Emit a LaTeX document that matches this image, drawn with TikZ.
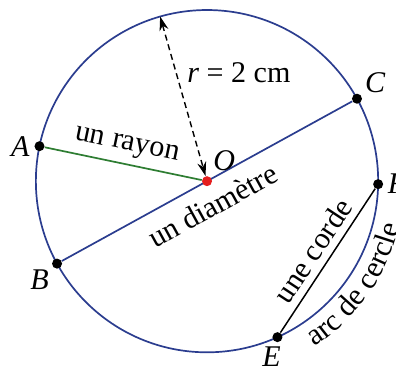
\documentclass[tikz,border=0pt]{standalone}
\usepackage{fontspec}
\setmainfont{Liberation Serif}
\usepackage{tikz}
\usepackage{xcolor}
\definecolor{CircleBlue}{HTML}{2B3D8F}
\definecolor{RayGreen}{HTML}{2E7D32}
\definecolor{CentreRed}{HTML}{E41E1E}
\usetikzlibrary{arrows.meta, positioning, decorations.text, backgrounds}

\begin{document}
\begin{tikzpicture}[font=\fontsize{15}{18}\selectfont,
        pnt/.style={circle, fill=black, inner sep=0pt, minimum size=5pt},
        lbl/.style={inner sep=1pt}]
        \useasboundingbox (-103.3pt,-97.3pt) rectangle (94.3pt,90.4pt);
        \def\R{85.4pt}

        % points on the circle
        \node[pnt, fill=CentreRed] (O) at (0,0) {};
        \node[pnt] (A) at (168.2:\R) {};
        \node[pnt] (B) at (208.8:\R) {};
        \node[pnt] (C) at (28.8:\R) {};
        \node[pnt] (F) at (-1:\R) {};
        \node[pnt] (E) at (-65.7:\R) {};
        \coordinate (T) at (105.9:\R);

        \node[lbl, left=1pt of A] (labA) {\textit{A}};
        \node[lbl, below left=0pt and 1pt of B] (labB) {\textit{B}};
        \node[lbl, above right=0pt and 1pt of C] (labC) {\textit{C}};
        \node[lbl, above right=2pt and 0pt of O] (labO) {\textit{O}};
        \node[lbl, right=1pt of F] (labF) {\textit{F}};
        \node[lbl, below=1pt of E, xshift=-3pt] (labE) {\textit{E}};

        \begin{scope}[on background layer]
            \draw[CircleBlue, line width=0.85pt] (O.center) circle (\R);
            \draw[CircleBlue, line width=0.85pt] (B) -- (C) node[pos=0.48, below=3pt, sloped, black] {un diamètre};
            \draw[RayGreen, line width=0.85pt] (A) -- (O) node[midway, above, sloped, black] {un rayon};
            \draw[line width=0.75pt] (E) -- (F) node[midway, above, sloped] {une corde};
            \draw[dash pattern=on 3pt off 2pt, line width=0.7pt, {Stealth[length=7pt, width=4.5pt]}-{Stealth[length=7pt, width=4.5pt]}] (T) -- (O) node[pos=0.35, right=2pt] {\textit{r} = 2 cm};
        \end{scope}

        \path[decorate, decoration={text along path, text align=center,
            text={|\fontsize{15}{18}\selectfont|arc de cercle}}]
            (-65:98.5pt) arc[start angle=-65, end angle=-5, radius=98.5pt];
    \end{tikzpicture}
\end{document}
